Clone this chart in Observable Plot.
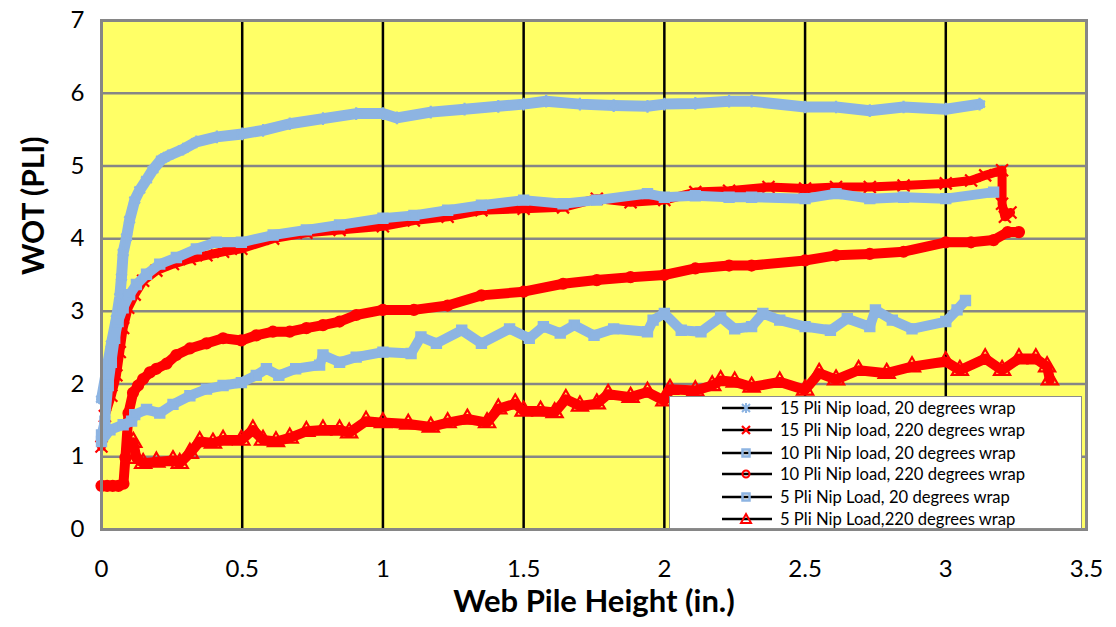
<!DOCTYPE html>
<html><head><meta charset="utf-8">
<script src="https://cdn.jsdelivr.net/npm/d3@7"></script>
<script src="https://cdn.jsdelivr.net/npm/@observablehq/plot@0.6"></script>
<style>
body{margin:0;background:#fff;}
#wrap{position:relative;width:1116px;height:627px;font-family:Lato,"Open Sans",sans-serif;}
#legend{position:absolute;left:669px;top:396px;width:413px;height:133px;background:#fff;border:1.5px solid #8c8c8c;box-sizing:border-box;}
.row{position:absolute;left:0;width:100%;height:20px;}
.row svg{position:absolute;left:50px;top:2px;}
.row span{position:absolute;left:110px;top:0;font-size:16.6px;line-height:20px;color:#000;white-space:nowrap;}
</style></head><body><div id="wrap"><div id="chart"></div><div id="legend"></div></div>
<script>
// Series names (legend order)
const seriesNames = [
  "15 Pli Nip load, 20 degrees wrap",
  "15 Pli Nip load, 220 degrees wrap",
  "10 Pli Nip load, 20 degrees wrap",
  "10 Pli Nip load, 220 degrees wrap",
  "5 Pli Nip Load, 20 degrees wrap",
  "5 Pli Nip Load,220 degrees wrap"
];
// Axis ticks
const xTicks = [0, 0.5, 1, 1.5, 2, 2.5, 3, 3.5];
const yTicks = [0, 1, 2, 3, 4, 5, 6, 7];

// 15 Pli, 20 deg
const x15_20 = [0,0.035,0.053,0.065,0.071,0.077,0.089,0.1,0.118,0.136,0.16,0.183,0.213,0.237,0.29,0.337,0.41,0.5,0.574,0.669,0.787,0.905,1.0,1.05,1.17,1.29,1.41,1.5,1.58,1.7,1.82,1.94,2.0,2.11,2.23,2.31,2.5,2.61,2.73,2.85,3.0,3.12];
const y15_20 = [1.79,2.55,2.9,3.2,3.47,3.81,4.02,4.26,4.53,4.67,4.81,4.95,5.09,5.14,5.23,5.33,5.4,5.44,5.49,5.58,5.65,5.72,5.72,5.66,5.74,5.78,5.82,5.85,5.89,5.85,5.83,5.82,5.85,5.86,5.89,5.89,5.81,5.81,5.76,5.81,5.78,5.85];
// 15 Pli, 220 deg
const x15_220 = [0,0.012,0.035,0.053,0.065,0.077,0.095,0.118,0.148,0.195,0.254,0.314,0.373,0.432,0.497,0.61,0.728,0.846,1.0,1.11,1.23,1.35,1.5,1.64,1.76,1.88,2.0,2.11,2.23,2.37,2.5,2.61,2.73,2.85,3.0,3.09,3.14,3.2,3.2,3.21,3.23];
const y15_220 = [1.14,1.56,1.84,2.12,2.44,2.77,3.05,3.23,3.42,3.56,3.65,3.72,3.77,3.82,3.86,4.0,4.08,4.12,4.17,4.25,4.3,4.39,4.41,4.43,4.55,4.5,4.53,4.64,4.66,4.71,4.69,4.71,4.71,4.73,4.76,4.8,4.87,4.94,4.48,4.3,4.36];
// 10 Pli, 20 deg
const x10_20 = [0,0.012,0.024,0.035,0.047,0.059,0.077,0.1,0.124,0.16,0.207,0.266,0.337,0.408,0.497,0.61,0.728,0.846,1.0,1.11,1.23,1.35,1.5,1.64,1.76,1.94,2.0,2.11,2.23,2.31,2.5,2.61,2.73,2.85,3.0,3.17];
const y10_20 = [1.3,1.49,1.98,2.3,2.63,2.86,3.05,3.23,3.37,3.51,3.65,3.74,3.86,3.95,3.95,4.05,4.12,4.19,4.28,4.32,4.39,4.46,4.53,4.48,4.53,4.62,4.57,4.59,4.57,4.57,4.55,4.62,4.55,4.57,4.55,4.64];
// 10 Pli, 220 deg
const x10_220 = [0,0.02,0.04,0.06,0.078,0.085,0.096,0.112,0.13,0.148,0.172,0.195,0.231,0.266,0.314,0.373,0.432,0.497,0.55,0.609,0.669,0.728,0.787,0.846,0.905,1.0,1.11,1.23,1.35,1.5,1.64,1.76,1.88,2.0,2.11,2.23,2.31,2.5,2.61,2.73,2.85,3.0,3.09,3.17,3.22,3.26];
const y10_220 = [0.6,0.6,0.6,0.6,0.63,0.99,1.6,1.88,1.98,2.07,2.16,2.21,2.28,2.4,2.49,2.56,2.63,2.6,2.67,2.72,2.72,2.77,2.81,2.86,2.95,3.02,3.02,3.08,3.22,3.27,3.38,3.43,3.47,3.5,3.59,3.63,3.63,3.7,3.77,3.79,3.82,3.95,3.95,3.98,4.09,4.09];
// 5 Pli, 20 deg
const x5_20 = [0,0.03,0.077,0.107,0.118,0.16,0.207,0.254,0.314,0.373,0.432,0.497,0.55,0.586,0.63,0.69,0.775,0.787,0.846,0.905,1.0,1.1,1.135,1.19,1.28,1.35,1.45,1.52,1.57,1.63,1.68,1.75,1.82,1.94,1.96,2.0,2.06,2.13,2.2,2.25,2.31,2.35,2.41,2.5,2.59,2.65,2.73,2.75,2.81,2.88,3.0,3.04,3.07];
const y5_20 = [1.21,1.37,1.44,1.49,1.58,1.65,1.6,1.72,1.84,1.93,1.98,2.02,2.12,2.21,2.12,2.21,2.26,2.4,2.3,2.37,2.44,2.42,2.65,2.56,2.74,2.56,2.76,2.63,2.79,2.7,2.81,2.67,2.76,2.72,2.88,2.97,2.74,2.72,2.92,2.76,2.79,2.97,2.88,2.79,2.74,2.9,2.79,3.02,2.88,2.76,2.86,3.02,3.15];
// 5 Pli, 220 deg
const x5_220 = [0.113,0.124,0.148,0.195,0.254,0.278,0.314,0.349,0.396,0.432,0.497,0.538,0.574,0.62,0.669,0.728,0.787,0.846,0.88,0.94,1.0,1.09,1.17,1.23,1.3,1.37,1.41,1.47,1.5,1.56,1.61,1.65,1.7,1.76,1.8,1.88,1.94,2.0,2.02,2.11,2.17,2.2,2.25,2.31,2.41,2.5,2.55,2.61,2.69,2.79,2.88,3.0,3.05,3.14,3.2,3.26,3.32,3.36,3.37];
const y5_220 = [1.2,0.98,0.91,0.93,0.95,0.91,1.05,1.21,1.19,1.23,1.23,1.37,1.23,1.21,1.26,1.35,1.37,1.37,1.33,1.49,1.47,1.45,1.41,1.47,1.52,1.47,1.66,1.73,1.63,1.63,1.61,1.79,1.7,1.73,1.86,1.82,1.89,1.77,1.93,1.91,1.98,2.05,2.03,1.96,2.03,1.92,2.15,2.06,2.19,2.15,2.24,2.31,2.19,2.35,2.19,2.35,2.35,2.24,2.06];

const blue = "#8DB4E2", red = "#FF0000";
const styles = [
  {color: blue, symbol: "asterisk", r: 6, fill: "none", sw: 2.2, band: 11},
  {color: red, symbol: "times", r: 5.5, fill: "none", sw: 2.2, band: 9},
  {color: blue, symbol: "square", r: 5, fill: "none", sw: 2.5, band: 10},
  {color: red, symbol: "circle", r: 5, fill: "none", sw: 2.2, band: 10},
  {color: blue, symbol: "square", r: 5, fill: "none", sw: 2.5, band: 10},
  {color: red, symbol: "triangle", r: 6, fill: "none", sw: 2.2, band: 10}
];
const xs = [x15_20, x15_220, x10_20, x10_220, x5_20, x5_220];
const ys = [y15_20, y15_220, y10_20, y10_220, y5_20, y5_220];
const series = xs.map((xa, i) => xa.map((x, j) => ({x, y: ys[i][j], s: seriesNames[i]})));

const marks = [
  Plot.frame({fill: "#FFFF66", stroke: null}),
  Plot.ruleY(yTicks.filter(d => d > 0 && d < 7), {stroke: "#868686", strokeWidth: 2.5}),
  Plot.ruleX(xTicks.filter(d => d > 0 && d < 3.5), {stroke: "#000", strokeWidth: 2.5})
];
series.forEach((data, i) => {
  const st = styles[i];
  marks.push(Plot.line(data, {x: "x", y: "y", stroke: "#000", strokeWidth: 2.2}));
  marks.push(Plot.line(data, {x: "x", y: "y", stroke: st.color, strokeWidth: st.band, strokeLinejoin: "round", strokeLinecap: "round"}));
  marks.push(Plot.dot(data, {x: "x", y: "y", symbol: st.symbol, r: st.r, stroke: st.color, fill: st.fill, strokeWidth: st.sw}));
});
marks.push(
  Plot.frame({stroke: "#868686", strokeWidth: 3}),
  Plot.axisX(xTicks, {tickSize: 0, tickPadding: 30, fontSize: 24, label: null, tickFormat: d => String(d)}),
  Plot.axisY(yTicks, {tickSize: 0, tickPadding: 17, fontSize: 24, label: null, tickFormat: d => String(d)}),
  Plot.text(["Web Pile Height (in.)"], {text: d => d, frameAnchor: "bottom", dy: 73, fontSize: 31, fontWeight: "bold", lineAnchor: "middle"}),
  Plot.text(["WOT (PLI)"], {text: d => d, frameAnchor: "left", dx: -67, rotate: -90, fontSize: 30, fontWeight: "bold", lineAnchor: "middle"})
);

const chart = Plot.plot({
  width: 1116, height: 627,
  marginLeft: 101, marginRight: 30, marginTop: 20, marginBottom: 98,
  x: {domain: [0, 3.5]},
  y: {domain: [0, 7]},
  style: {fontFamily: "Lato, 'Open Sans', sans-serif", color: "#000", background: "#fff"},
  marks
});
document.getElementById("chart").appendChild(chart);

// Legend
const legend = document.getElementById("legend");
const rowTops = [1, 23, 46, 67, 90, 112];
function markerSvg(st) {
  const c = st.color, cx = 26, cy = 8;
  let m = "";
  if (st.symbol === "asterisk") m = `<path d="M${cx-4},${cy-4}L${cx+4},${cy+4}M${cx-4},${cy+4}L${cx+4},${cy-4}M${cx},${cy-5}L${cx},${cy+5}" stroke="${c}" stroke-width="2"/>`;
  else if (st.symbol === "times") m = `<path d="M${cx-4},${cy-4}L${cx+4},${cy+4}M${cx-4},${cy+4}L${cx+4},${cy-4}" stroke="${c}" stroke-width="2.2"/>`;
  else if (st.symbol === "square") m = `<rect x="${cx-3.5}" y="${cy-3.5}" width="7" height="7" fill="none" stroke="${c}" stroke-width="2.5"/>`;
  else if (st.symbol === "circle") m = `<circle cx="${cx}" cy="${cy}" r="3.5" fill="none" stroke="${c}" stroke-width="2"/>`;
  else m = `<path d="M${cx},${cy-5}L${cx+5},${cy+4}L${cx-5},${cy+4}Z" fill="none" stroke="${c}" stroke-width="2"/>`;
  return `<svg width="54" height="16"><line x1="2" y1="${cy}" x2="52" y2="${cy}" stroke="#000" stroke-width="2.5"/>${m}</svg>`;
}
seriesNames.forEach((name, i) => {
  const row = document.createElement("div");
  row.className = "row";
  row.style.top = rowTops[i] + "px";
  row.innerHTML = markerSvg(styles[i]) + `<span>${name}</span>`;
  legend.appendChild(row);
});
</script>
</body></html>
